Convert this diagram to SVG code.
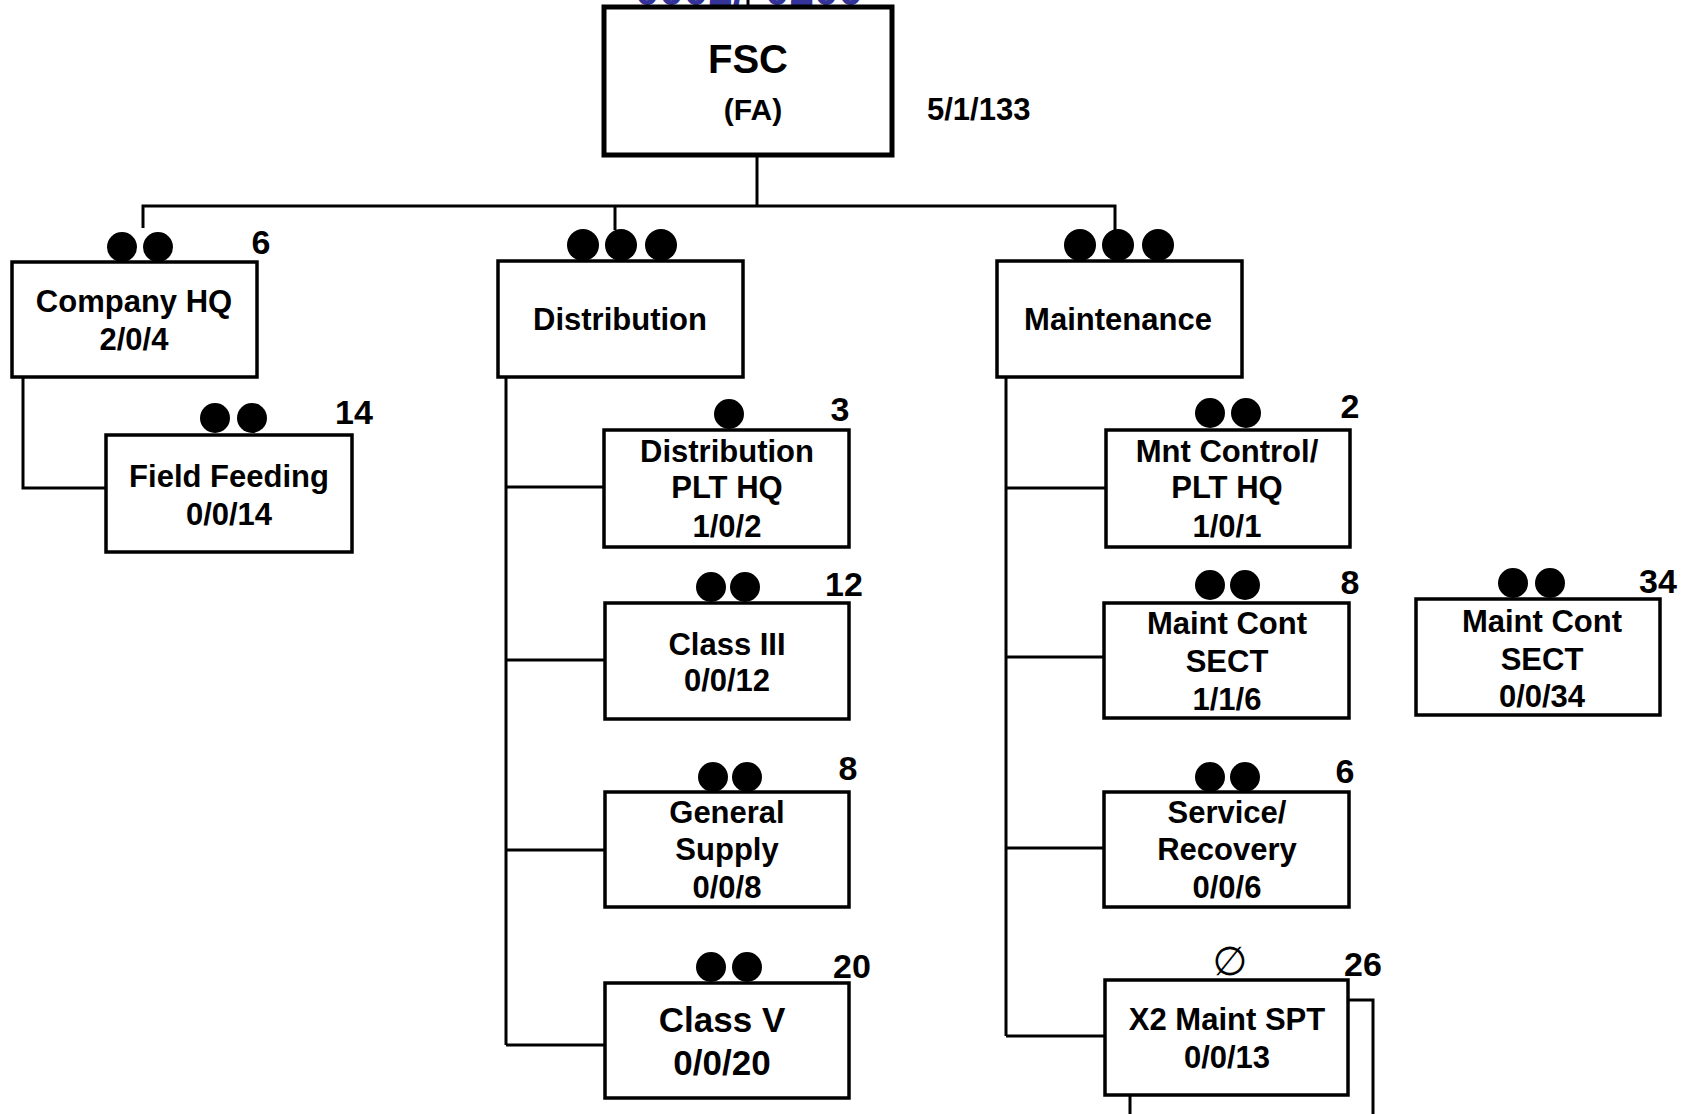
<svg xmlns="http://www.w3.org/2000/svg" width="1683" height="1114" viewBox="0 0 1683 1114">
<style>
.box{fill:#fff;stroke:#000;stroke-width:3.5}
.fsc{fill:#fff;stroke:#000;stroke-width:5}
.t{font-family:"Liberation Sans",Arial,sans-serif;font-weight:bold;font-size:31px;text-anchor:middle;fill:#000}
.n{font-family:"Liberation Sans",Arial,sans-serif;font-weight:bold;font-size:34px;text-anchor:middle;fill:#000}
.c{stroke:#000;stroke-width:3;fill:none}
.blue{font-family:"Liberation Sans",Arial,sans-serif;font-weight:bold;font-size:44px;fill:#333399}
</style>
<rect width="1683" height="1114" fill="#fff"/>
<text class="blue" x="745" y="5" text-anchor="end">0002/</text>
<text class="blue" x="765" y="5">0200</text>
<g id="connectors" class="c">
<line x1="748" y1="0" x2="748" y2="6"/>
<line x1="757" y1="155" x2="757" y2="206"/>
<polyline points="143,228 143,206 1115,206 1115,230"/>
<line x1="615" y1="206" x2="615" y2="230"/>
<polyline points="23,377 23,488 106,488"/>
<line x1="506" y1="377" x2="506" y2="1045"/>
<line x1="506" y1="487" x2="604" y2="487"/>
<line x1="506" y1="660" x2="605" y2="660"/>
<line x1="506" y1="850" x2="605" y2="850"/>
<line x1="506" y1="1045" x2="605" y2="1045"/>
<line x1="1006" y1="377" x2="1006" y2="1036"/>
<line x1="1006" y1="488" x2="1106" y2="488"/>
<line x1="1006" y1="657" x2="1104" y2="657"/>
<line x1="1006" y1="848" x2="1103" y2="848"/>
<line x1="1006" y1="1036" x2="1105" y2="1036"/>
<polyline points="1348,1000 1373,1000 1373,1114"/>
<line x1="1130" y1="1095" x2="1130" y2="1114"/>
</g>
<g id="fsc">
<rect class="fsc" x="604" y="7" width="288" height="148"/>
<text class="t" x="748" y="73" style="font-size:40px">FSC</text>
<text class="t" x="753" y="120" style="font-size:30px">(FA)</text>
<text class="t" x="927" y="120" style="text-anchor:start">5/1/133</text>
</g>
<g id="company-hq">
<rect class="box" x="12" y="262" width="245" height="115"/>
<circle cx="122" cy="247" r="15"/><circle cx="158" cy="247" r="15"/>
<text class="n" x="261" y="254">6</text>
<text class="t" x="134" y="312">Company HQ</text>
<text class="t" x="134" y="350">2/0/4</text>
</g>
<g id="field-feeding">
<rect class="box" x="106" y="435" width="246" height="117"/>
<circle cx="215" cy="418" r="15"/><circle cx="252" cy="418" r="15"/>
<text class="n" x="354" y="424">14</text>
<text class="t" x="229" y="487">Field Feeding</text>
<text class="t" x="229" y="525">0/0/14</text>
</g>
<g id="distribution">
<rect class="box" x="498" y="261" width="245" height="116"/>
<circle cx="583" cy="245" r="16"/><circle cx="621" cy="245" r="16"/><circle cx="661" cy="245" r="16"/>
<text class="t" x="620" y="330">Distribution</text>
</g>
<g id="maintenance">
<rect class="box" x="997" y="261" width="245" height="116"/>
<circle cx="1080" cy="245" r="16"/><circle cx="1118" cy="245" r="16"/><circle cx="1158" cy="245" r="16"/>
<text class="t" x="1118" y="330">Maintenance</text>
</g>
<g id="dist-plt-hq">
<rect class="box" x="604" y="430" width="245" height="117"/>
<circle cx="729" cy="414" r="15"/>
<text class="n" x="840" y="421">3</text>
<text class="t" x="727" y="462">Distribution</text>
<text class="t" x="727" y="498">PLT HQ</text>
<text class="t" x="727" y="537">1/0/2</text>
</g>
<g id="class-iii">
<rect class="box" x="605" y="603" width="244" height="116"/>
<circle cx="711" cy="587" r="15"/><circle cx="745" cy="587" r="15"/>
<text class="n" x="844" y="596">12</text>
<text class="t" x="727" y="655">Class III</text>
<text class="t" x="727" y="691">0/0/12</text>
</g>
<g id="general-supply">
<rect class="box" x="605" y="792" width="244" height="115"/>
<circle cx="713" cy="777" r="15"/><circle cx="747" cy="777" r="15"/>
<text class="n" x="848" y="780">8</text>
<text class="t" x="727" y="823">General</text>
<text class="t" x="727" y="860">Supply</text>
<text class="t" x="727" y="898">0/0/8</text>
</g>
<g id="class-v">
<rect class="box" x="605" y="983" width="244" height="115"/>
<circle cx="711" cy="967" r="15"/><circle cx="747" cy="967" r="15"/>
<text class="n" x="852" y="978">20</text>
<text class="t" x="722" y="1032" style="font-size:35px">Class V</text>
<text class="t" x="722" y="1075" style="font-size:35px">0/0/20</text>
</g>
<g id="mnt-control">
<rect class="box" x="1106" y="430" width="244" height="117"/>
<circle cx="1210" cy="413" r="15"/><circle cx="1246" cy="413" r="15"/>
<text class="n" x="1350" y="418">2</text>
<text class="t" x="1227" y="462">Mnt Control/</text>
<text class="t" x="1227" y="498">PLT HQ</text>
<text class="t" x="1227" y="537">1/0/1</text>
</g>
<g id="maint-cont-sect-1">
<rect class="box" x="1104" y="603" width="245" height="115"/>
<circle cx="1210" cy="585" r="15"/><circle cx="1245" cy="585" r="15"/>
<text class="n" x="1350" y="594">8</text>
<text class="t" x="1227" y="634">Maint Cont</text>
<text class="t" x="1227" y="672">SECT</text>
<text class="t" x="1227" y="710">1/1/6</text>
</g>
<g id="service-recovery">
<rect class="box" x="1104" y="792" width="245" height="115"/>
<circle cx="1210" cy="777" r="15"/><circle cx="1245" cy="777" r="15"/>
<text class="n" x="1345" y="783">6</text>
<text class="t" x="1227" y="823">Service/</text>
<text class="t" x="1227" y="860">Recovery</text>
<text class="t" x="1227" y="898">0/0/6</text>
</g>
<g id="x2-maint-spt">
<rect class="box" x="1105" y="980" width="243" height="115"/>
<text x="1230" y="975" style="font-family:'DejaVu Sans',sans-serif;font-size:40px;text-anchor:middle">∅</text>
<text class="n" x="1363" y="976">26</text>
<text class="t" x="1227" y="1030">X2 Maint SPT</text>
<text class="t" x="1227" y="1068">0/0/13</text>
</g>
<g id="maint-cont-sect-2">
<rect class="box" x="1416" y="599" width="244" height="116"/>
<circle cx="1513" cy="583" r="15"/><circle cx="1550" cy="583" r="15"/>
<text class="n" x="1658" y="593">34</text>
<text class="t" x="1542" y="632">Maint Cont</text>
<text class="t" x="1542" y="670">SECT</text>
<text class="t" x="1542" y="707">0/0/34</text>
</g>
</svg>
